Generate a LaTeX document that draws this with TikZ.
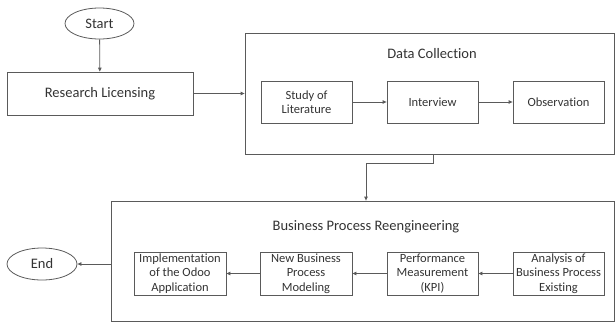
\documentclass[tikz,border=0pt]{standalone}
\usepackage{fontspec}
\setmainfont{Carlito}[Ligatures=NoCommon]
\usetikzlibrary{arrows.meta,shapes.geometric}
\definecolor{linecol}{HTML}{5A5A5A}
\definecolor{txtcol}{HTML}{333333}
\begin{document}
\begin{tikzpicture}[x=1pt,y=-1pt,
  every node/.style={text=txtcol},
  frame/.style={draw=linecol, line width=0.8pt, inner sep=0pt},
  bigbox/.style={frame, font=\fontsize{14.5}{17}\selectfont, align=center},
  smallbox/.style={frame, minimum width=91pt, minimum height=42pt, font=\fontsize{12.5}{14.5}\selectfont, align=center},
  oval/.style={frame, ellipse, minimum width=69pt, minimum height=31pt, font=\fontsize{14.5}{17}\selectfont},
  title/.style={font=\fontsize{14.5}{17}\selectfont, inner sep=0pt},
  conn/.style={draw=linecol, line width=0.8pt, -{Triangle[length=4pt,width=3.5pt]}}]
\useasboundingbox (0,0) rectangle (616,325);
% top row
\node[oval] (start) at (99.5,23.5) {Start};
\node[bigbox, minimum width=186pt, minimum height=43pt] (rl) at (100,93.5) {Research Licensing};
\node[frame, minimum width=369pt, minimum height=121pt] (dc) at (429.5,93.5) {};
\node[title] (dct) at (432,54) {Data Collection};
\node[smallbox] (sl) at (306.5,102) {Study of\\Literature};
\node[smallbox] (iv) at (432.5,102) {Interview};
\node[smallbox] (ob) at (558.5,102) {Observation};
% bottom row
\node[frame, minimum width=503pt, minimum height=120pt] (bpr) at (362.5,261) {};
\node[title] (bprt) at (366,227) {Business Process Reengineering};
\node[smallbox, minimum width=92pt, minimum height=43pt] (im) at (180,273.5) {Implementation\\of the Odoo\\Application};
\node[smallbox, minimum width=92pt, minimum height=43pt] (nb) at (306,273.5) {New Business\\Process\\Modeling};
\node[smallbox, minimum width=91pt, minimum height=43pt] (pm) at (432.5,273.5) {Performance\\Measurement\\(KPI)};
\node[smallbox, minimum width=91pt, minimum height=43pt] (an) at (558.5,273.5) {Analysis of\\Business Process\\Existing};
\node[oval, minimum width=70pt, minimum height=32pt] (end) at (42,264) {End};
% connectors
\draw[conn] (start) -- (rl);
\draw[conn] (rl.east) -- (rl.east -| dc.west);
\draw[conn] (sl) -- (iv);
\draw[conn] (iv) -- (ob);
\coordinate (c1) at (433,163);
\coordinate (c2) at (366,163);
\draw[conn] (dc.south -| c1) -- (c1) -- (c2) -- (c2 |- bpr.north);
\draw[conn] (an.west) -- (pm.east);
\draw[conn] (pm.west) -- (nb.east);
\draw[conn] (nb.west) -- (im.east);
\draw[conn] (end.east -| bpr.west) -- (end.east);
\end{tikzpicture}
\end{document}
